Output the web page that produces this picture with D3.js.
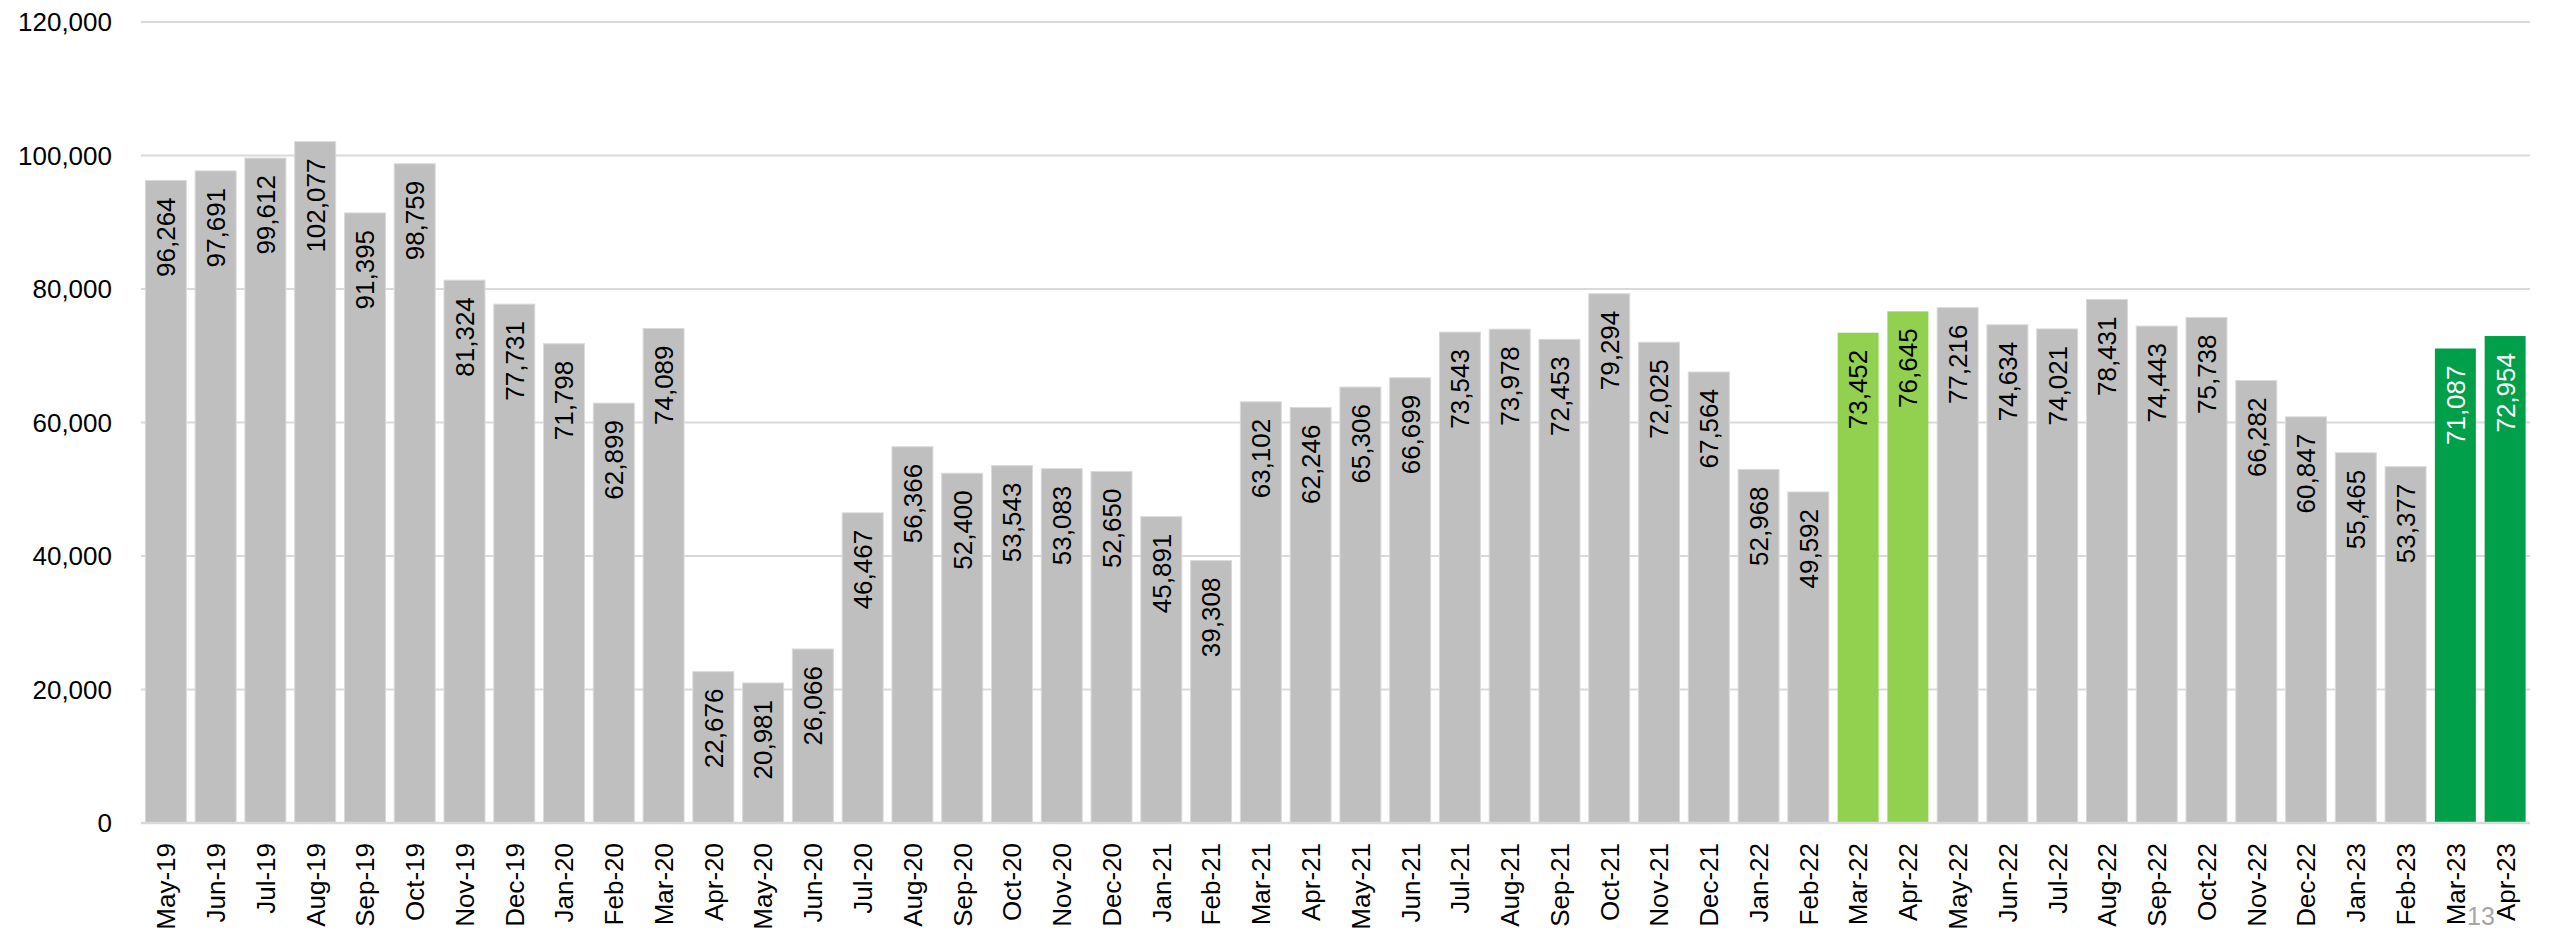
<!DOCTYPE html>
<html>
<head>
<meta charset="utf-8">
<script src="https://cdn.jsdelivr.net/npm/d3@7"></script>
<style>
  html, body { margin: 0; padding: 0; background: #fff; }
  svg { display: block; }
  text { font-family: "Liberation Sans", Arial, sans-serif; }
</style>
</head>
<body>
<svg id="chart" width="2552" height="936"></svg>
<script>
const categories = ["May-19","Jun-19","Jul-19","Aug-19","Sep-19","Oct-19","Nov-19","Dec-19","Jan-20","Feb-20","Mar-20","Apr-20","May-20","Jun-20","Jul-20","Aug-20","Sep-20","Oct-20","Nov-20","Dec-20","Jan-21","Feb-21","Mar-21","Apr-21","May-21","Jun-21","Jul-21","Aug-21","Sep-21","Oct-21","Nov-21","Dec-21","Jan-22","Feb-22","Mar-22","Apr-22","May-22","Jun-22","Jul-22","Aug-22","Sep-22","Oct-22","Nov-22","Dec-22","Jan-23","Feb-23","Mar-23","Apr-23"];
const values = [96264,97691,99612,102077,91395,98759,81324,77731,71798,62899,74089,22676,20981,26066,46467,56366,52400,53543,53083,52650,45891,39308,63102,62246,65306,66699,73543,73978,72453,79294,72025,67564,52968,49592,73452,76645,77216,74634,74021,78431,74443,75738,66282,60847,55465,53377,71087,72954];
const lightGreenMonths = ["Mar-22","Apr-22"];
const darkGreenMonths = ["Mar-23","Apr-23"];
const yTicks = [0,20000,40000,60000,80000,100000,120000];
const pageNumber = "13";

(function () {
const svg = d3.select("#chart");
const mLeft = 141, mRight = 2530, mTop = 22, mBottom = 823;

const x = d3.scaleBand().domain(categories).range([mLeft, mRight]).paddingInner(0.177).paddingOuter(0.088);
const y = d3.scaleLinear().domain([0, 120000]).range([mBottom, mTop]);

// gridlines
svg.append("g").selectAll("line").data(yTicks).join("line")
  .attr("x1", mLeft).attr("x2", mRight)
  .attr("y1", d => y(d)).attr("y2", d => y(d))
  .attr("stroke", "#d9d9d9").attr("stroke-width", 2);

// y axis labels
const fmt = d3.format(",");
svg.append("g").selectAll("text").data(yTicks).join("text")
  .attr("x", 112).attr("y", d => y(d))
  .attr("dy", "0.36em")
  .attr("text-anchor", "end")
  .attr("font-size", 26).attr("fill", "#000")
  .text(d => fmt(d));

function fillFor(c) {
  if (darkGreenMonths.includes(c)) return "#00a04a";
  if (lightGreenMonths.includes(c)) return "#92d050";
  return "#bfbfbf";
}

const data = categories.map((c, i) => ({c, v: values[i]}));

svg.append("g").selectAll("rect").data(data).join("rect")
  .attr("x", d => x(d.c)).attr("width", x.bandwidth())
  .attr("y", d => y(d.v)).attr("height", d => y(0) - y(d.v))
  .attr("fill", d => fillFor(d.c))
  .attr("stroke", d => fillFor(d.c) === "#bfbfbf" ? "#d9d9d9" : "none")
  .attr("stroke-width", 1);

// baseline
svg.append("line").attr("x1", mLeft).attr("x2", mRight)
  .attr("y1", y(0)).attr("y2", y(0))
  .attr("stroke", "#d9d9d9").attr("stroke-width", 2.5);

// data labels
svg.append("g").selectAll("text").data(data).join("text")
  .attr("transform", d => `translate(${x(d.c) + x.bandwidth()/2},${y(d.v) + 17}) rotate(-90)`)
  .attr("text-anchor", "end").attr("dy", "0.36em")
  .attr("font-size", 26)
  .attr("fill", d => darkGreenMonths.includes(d.c) ? "#ffffff" : "#000")
  .text(d => fmt(d.v));

// x labels
svg.append("g").selectAll("text").data(categories).join("text")
  .attr("transform", d => `translate(${x(d) + x.bandwidth()/2},843) rotate(-90)`)
  .attr("text-anchor", "end").attr("dy", "0.36em")
  .attr("font-size", 26).attr("fill", "#000")
  .text(d => d);

// page number
svg.append("text").attr("x", 2467).attr("y", 925)
  .attr("font-size", 25).attr("fill", "#a6a6a6")
  .text(pageNumber);
})();
</script>
</body>
</html>
